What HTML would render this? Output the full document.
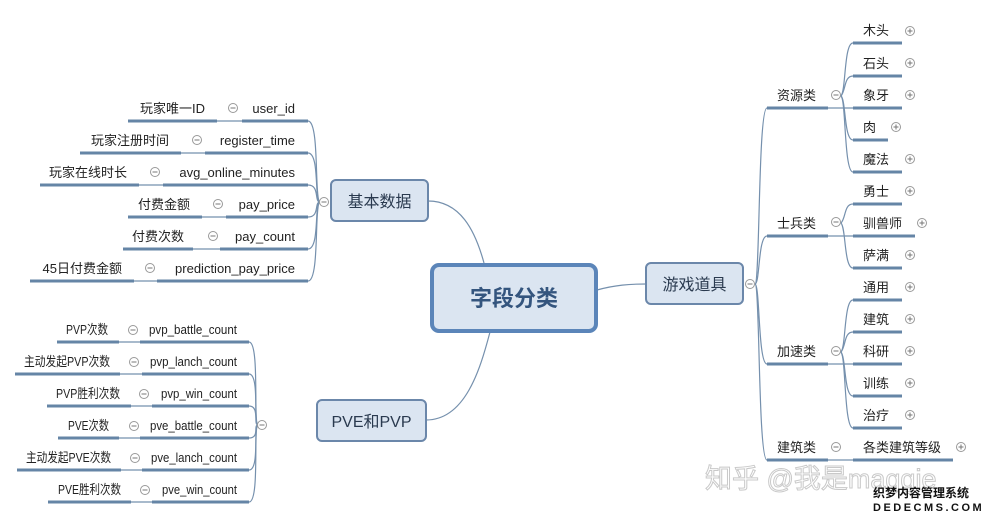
<!DOCTYPE html>
<html><head><meta charset="utf-8"><style>
html,body{margin:0;padding:0;background:#fff;}
svg{display:block;font-family:"Liberation Sans","Noto Sans CJK SC",sans-serif;}
.t{font-size:13px;fill:#222;}
.u{stroke:#6585a6;stroke-width:3;fill:none;}
.l{stroke:#7590ad;stroke-width:1.2;fill:none;}
.c{fill:#fff;stroke:#999;stroke-width:1;}
.m{stroke:#777;stroke-width:1;}
</style></head><body>
<svg width="982" height="519" viewBox="0 0 982 519" xmlns="http://www.w3.org/2000/svg">
<defs>
<g id="minus"><circle class="c" r="4.5"/><line class="m" x1="-2.5" x2="2.5"/></g>
<g id="plus"><circle class="c" r="4.5"/><line class="m" x1="-2.5" x2="2.5"/><line class="m" y1="-2.5" y2="2.5"/></g>
</defs>
<!-- main connectors -->
<path class="l" d="M428,201 C460,201 475,230 484,263"/>
<path class="l" d="M426,420 C465,420 480,370 490,332"/>
<path class="l" d="M597,290 C615,285 630,284 646,284"/>

<!-- basic data rows -->
<g>
<path class="l" d="M308,121 C320,121 314,202 320,202"/>
<path class="l" d="M308,153 C320,153 314,202 320,202"/>
<path class="l" d="M308,185 C320,185 314,202 320,202"/>
<path class="l" d="M308,217 C320,217 314,202 320,202"/>
<path class="l" d="M308,249 C320,249 314,202 320,202"/>
<path class="l" d="M308,281 C320,281 314,202 320,202"/>
<use href="#minus" x="324" y="202"/>
<line class="l" x1="217" y1="121" x2="242" y2="121"/><path class="u" d="M128,121H217M242,121H308"/>
<text class="t" x="205" y="113" text-anchor="end">玩家唯一ID</text><use href="#minus" x="233" y="108"/><text class="t" x="295" y="113" text-anchor="end">user_id</text>
<line class="l" x1="181" y1="153" x2="205" y2="153"/><path class="u" d="M80,153H181M205,153H308"/>
<text class="t" x="169" y="145" text-anchor="end">玩家注册时间</text><use href="#minus" x="197" y="140"/><text class="t" x="295" y="145" text-anchor="end">register_time</text>
<line class="l" x1="139" y1="185" x2="163" y2="185"/><path class="u" d="M40,185H139M163,185H308"/>
<text class="t" x="127" y="177" text-anchor="end">玩家在线时长</text><use href="#minus" x="155" y="172"/><text class="t" x="295" y="177" text-anchor="end">avg_online_minutes</text>
<line class="l" x1="202" y1="217" x2="226" y2="217"/><path class="u" d="M128,217H202M226,217H308"/>
<text class="t" x="190" y="209" text-anchor="end">付费金额</text><use href="#minus" x="218" y="204"/><text class="t" x="295" y="209" text-anchor="end">pay_price</text>
<line class="l" x1="193" y1="249" x2="220" y2="249"/><path class="u" d="M123,249H193M220,249H308"/>
<text class="t" x="184" y="241" text-anchor="end">付费次数</text><use href="#minus" x="213" y="236"/><text class="t" x="295" y="241" text-anchor="end">pay_count</text>
<line class="l" x1="134" y1="281" x2="157" y2="281"/><path class="u" d="M30,281H134M157,281H308"/>
<text class="t" x="122" y="273" text-anchor="end">45日付费金额</text><use href="#minus" x="150" y="268"/><text class="t" x="295" y="273" text-anchor="end">prediction_pay_price</text>
</g>
<rect x="331" y="180" width="97" height="41" rx="5" fill="#dbe5f1" stroke="#6b87aa" stroke-width="2"/>
<text x="379.5" y="207" text-anchor="middle" font-size="16" fill="#2a3a4f">基本数据</text>

<!-- PVE rows -->
<g>
<path class="l" d="M249,342 C260,342 253,425 258,425"/>
<path class="l" d="M249,374 C260,374 253,425 258,425"/>
<path class="l" d="M249,406 C260,406 253,425 258,425"/>
<path class="l" d="M249,438 C260,438 253,425 258,425"/>
<path class="l" d="M249,470 C260,470 253,425 258,425"/>
<path class="l" d="M249,502 C260,502 253,425 258,425"/>
<use href="#minus" x="262" y="425"/>
<line class="l" x1="119" y1="342" x2="140" y2="342"/><path class="u" d="M57,342H119M140,342H249"/>
<text class="t" x="66" y="334" textLength="42" lengthAdjust="spacingAndGlyphs">PVP次数</text><use href="#minus" x="133" y="330"/><text class="t" x="149" y="334" textLength="88" lengthAdjust="spacingAndGlyphs">pvp_battle_count</text>
<line class="l" x1="120" y1="374" x2="142" y2="374"/><path class="u" d="M15,374H120M142,374H249"/>
<text class="t" x="24" y="366" textLength="86" lengthAdjust="spacingAndGlyphs">主动发起PVP次数</text><use href="#minus" x="134" y="362"/><text class="t" x="150" y="366" textLength="87" lengthAdjust="spacingAndGlyphs">pvp_lanch_count</text>
<line class="l" x1="131" y1="406" x2="152" y2="406"/><path class="u" d="M47,406H131M152,406H249"/>
<text class="t" x="56" y="398" textLength="64" lengthAdjust="spacingAndGlyphs">PVP胜利次数</text><use href="#minus" x="144" y="394"/><text class="t" x="161" y="398" textLength="76" lengthAdjust="spacingAndGlyphs">pvp_win_count</text>
<line class="l" x1="119" y1="438" x2="140" y2="438"/><path class="u" d="M58,438H119M140,438H249"/>
<text class="t" x="68" y="430" textLength="41" lengthAdjust="spacingAndGlyphs">PVE次数</text><use href="#minus" x="134" y="426"/><text class="t" x="150" y="430" textLength="87" lengthAdjust="spacingAndGlyphs">pve_battle_count</text>
<line class="l" x1="121" y1="470" x2="142" y2="470"/><path class="u" d="M17,470H121M142,470H249"/>
<text class="t" x="26" y="462" textLength="85" lengthAdjust="spacingAndGlyphs">主动发起PVE次数</text><use href="#minus" x="135" y="458"/><text class="t" x="151" y="462" textLength="86" lengthAdjust="spacingAndGlyphs">pve_lanch_count</text>
<line class="l" x1="131" y1="502" x2="152" y2="502"/><path class="u" d="M48,502H131M152,502H249"/>
<text class="t" x="58" y="494" textLength="63" lengthAdjust="spacingAndGlyphs">PVE胜利次数</text><use href="#minus" x="145" y="490"/><text class="t" x="162" y="494" textLength="75" lengthAdjust="spacingAndGlyphs">pve_win_count</text>
</g>
<rect x="317" y="400" width="109" height="41" rx="5" fill="#dbe5f1" stroke="#6b87aa" stroke-width="2"/>
<text x="371.5" y="427" text-anchor="middle" font-size="16" fill="#2a3a4f">PVE和PVP</text>

<!-- center -->
<rect x="432" y="265" width="164" height="66" rx="7" fill="#dbe5f1" stroke="#5b85b9" stroke-width="4"/>
<text x="514" y="306" text-anchor="middle" font-size="22" font-weight="bold" fill="#34557e">字段分类</text>

<!-- game items -->
<rect x="646" y="263" width="97" height="41" rx="5" fill="#dbe5f1" stroke="#6b87aa" stroke-width="2"/>
<text x="694.5" y="290" text-anchor="middle" font-size="16" fill="#2a3a4f">游戏道具</text>
<use href="#minus" x="750" y="284"/>
<path class="l" d="M755,284 C760,284 758,108 767,108"/>
<path class="l" d="M755,284 C760,284 758,236 767,236"/>
<path class="l" d="M755,284 C760,284 758,364 767,364"/>
<path class="l" d="M755,284 C760,284 758,460 767,460"/>

<!-- 资源类 -->
<path class="u" d="M767,108H828"/><line class="l" x1="828" y1="108" x2="853" y2="108"/>
<text class="t" x="777" y="100">资源类</text><use href="#minus" x="836" y="95"/>
<path class="l" d="M841,96 C846,90 844,43 853,43"/><path class="l" d="M841,96 C846,90 844,76 853,76"/>
<path class="l" d="M841,96 C846,100 844,140 853,140"/><path class="l" d="M841,96 C846,100 844,172 853,172"/>
<path class="u" d="M853,43H902M853,76H902M853,108H902M853,140H888M853,172H902"/>
<text class="t" x="863" y="35">木头</text><use href="#plus" x="910" y="31"/>
<text class="t" x="863" y="68">石头</text><use href="#plus" x="910" y="63"/>
<text class="t" x="863" y="100">象牙</text><use href="#plus" x="910" y="95"/>
<text class="t" x="863" y="132">肉</text><use href="#plus" x="896" y="127"/>
<text class="t" x="863" y="164">魔法</text><use href="#plus" x="910" y="159"/>

<!-- 士兵类 -->
<path class="u" d="M767,236H828"/><line class="l" x1="828" y1="236" x2="853" y2="236"/>
<text class="t" x="777" y="228">士兵类</text><use href="#minus" x="836" y="222"/>
<path class="l" d="M841,223 C846,218 844,204 853,204"/><path class="l" d="M841,223 C846,228 844,268 853,268"/>
<path class="u" d="M853,204H902M853,236H915M853,268H902"/>
<text class="t" x="863" y="196">勇士</text><use href="#plus" x="910" y="191"/>
<text class="t" x="863" y="228">驯兽师</text><use href="#plus" x="922" y="223"/>
<text class="t" x="863" y="260">萨满</text><use href="#plus" x="910" y="255"/>

<!-- 加速类 -->
<path class="u" d="M767,364H828"/><line class="l" x1="828" y1="364" x2="853" y2="364"/>
<text class="t" x="777" y="356">加速类</text><use href="#minus" x="836" y="351"/>
<path class="l" d="M841,352 C846,346 844,300 853,300"/><path class="l" d="M841,352 C846,346 844,332 853,332"/>
<path class="l" d="M841,352 C846,358 844,396 853,396"/><path class="l" d="M841,352 C846,358 844,428 853,428"/>
<path class="u" d="M853,300H902M853,332H902M853,364H902M853,396H902M853,428H902"/>
<text class="t" x="863" y="292">通用</text><use href="#plus" x="910" y="287"/>
<text class="t" x="863" y="324">建筑</text><use href="#plus" x="910" y="319"/>
<text class="t" x="863" y="356">科研</text><use href="#plus" x="910" y="351"/>
<text class="t" x="863" y="388">训练</text><use href="#plus" x="910" y="383"/>
<text class="t" x="863" y="420">治疗</text><use href="#plus" x="910" y="415"/>

<!-- 建筑类 -->
<path class="u" d="M767,460H828"/><line class="l" x1="828" y1="460" x2="853" y2="460"/>
<text class="t" x="777" y="452">建筑类</text><use href="#minus" x="836" y="447"/>
<path class="u" d="M853,460H953"/>
<text class="t" x="863" y="452">各类建筑等级</text><use href="#plus" x="961" y="447"/>

<!-- watermarks -->
<text x="705" y="488" font-size="27" fill="#ffffff" stroke="#c4c4c4" stroke-width="1" opacity="0.9">知乎 @我是maggie</text>
<text x="873" y="497" font-size="12" font-weight="bold" fill="#111">织梦内容管理系统</text>
<text x="873" y="511" font-size="11" font-weight="bold" fill="#111" letter-spacing="2.5">DEDECMS.COM</text>
</svg>
</body></html>
